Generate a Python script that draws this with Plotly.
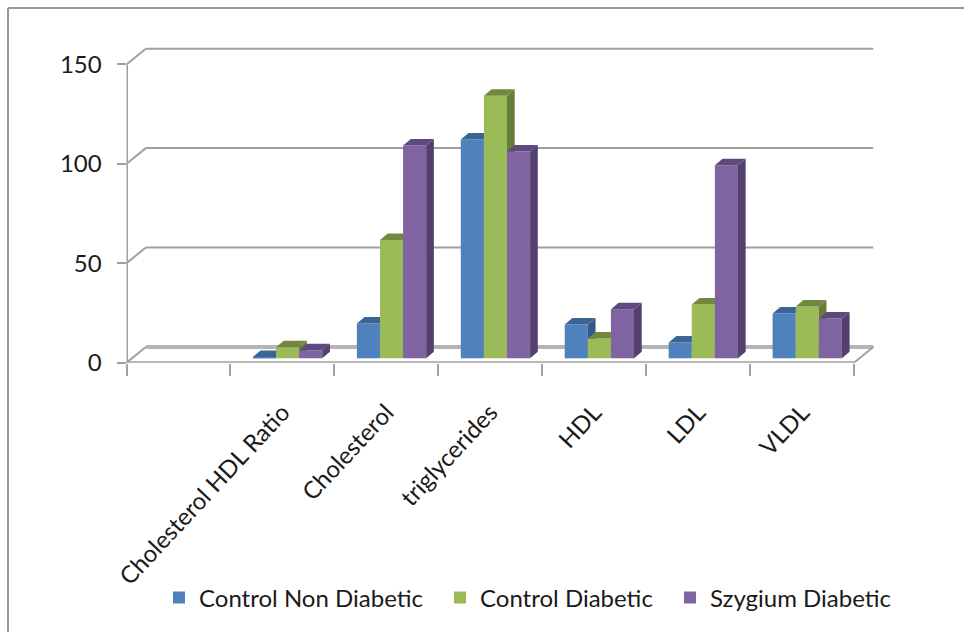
import numpy as np
import plotly.graph_objects as go

categories = ["", "Cholesterol HDL Ratio", "Cholesterol", "triglycerides", "HDL", "LDL", "VLDL"]
series_names = ["Control Non Diabetic", "Control Diabetic", "Szygium Diabetic"]
control_non_diabetic = [None, 0.7, 17.5, 110, 17, 8, 22.5]
control_diabetic = [None, 5.5, 59.5, 132, 10, 27, 26]
szygium_diabetic = [None, 4, 107, 104, 24.7, 97, 20]
y_ticks = [0, 50, 100, 150]

FONT = "Lato"
GRID = "#A0A0A0"
TEXT = "#1A1A1A"
colors = ["#4F81BD", "#9BBB59", "#8064A2"]
top_colors = ["#3A6595", "#71893F", "#5E4A7C"]
side_colors = ["#315A8A", "#667D38", "#54406F"]

W, H = 964, 632
X0, Y0 = 126.5, 362.7
PX_X, PX_Y = 103.93, 1.989
X_MAX, Y_MAX = 7.3, 162.0
WALL_DX, WALL_DY = 19.3 / PX_X, 15.7 / PX_Y
BAR_W = 23.1 / PX_X
BAR_DX, BAR_DY = 7.7 / PX_X, 6.5 / PX_Y
BASE = 4.4 / PX_Y
CLUSTER_SHIFT = 0.05

xdom = [X0 / W, (X0 + PX_X * X_MAX) / W]
ydom = [(H - Y0) / H, (H - Y0 + PX_Y * Y_MAX) / H]
slots = np.arange(len(categories))
centers = slots + 0.5

fig = go.Figure()
all_values = [control_non_diabetic, control_diabetic, szygium_diabetic]

for s, (name, vals) in enumerate(zip(series_names, all_values)):
    ax = str(s + 2)
    lefts = centers + CLUSTER_SHIFT + (s - 1.5) * BAR_W
    sx, sy, tx, ty = [], [], [], []
    for xl, v in zip(lefts, vals):
        if v is None:
            continue
        xr, top = xl + BAR_W, v + BASE
        sx += [xr, xr, xr + BAR_DX, xr + BAR_DX, xr, None]
        sy += [BASE, top, top + BAR_DY, BASE + BAR_DY, BASE, None]
        tx += [xl, xr, xr + BAR_DX, xl + BAR_DX, xl, None]
        ty += [top, top, top + BAR_DY, top + BAR_DY, top, None]
    common = dict(mode="lines", fill="toself", line=dict(width=0), hoverinfo="skip",
                  showlegend=False, xaxis="x" + ax, yaxis="y" + ax)
    fig.add_trace(go.Scatter(x=sx, y=sy, fillcolor=side_colors[s], **common))
    fig.add_trace(go.Scatter(x=tx, y=ty, fillcolor=top_colors[s], **common))
    fig.add_trace(go.Bar(x=lefts, y=vals, base=BASE, width=BAR_W, offset=0, name=name,
                         marker=dict(color=colors[s], line=dict(width=0)),
                         xaxis="x" + ax, yaxis="y" + ax,
                         legend="legend" if s == 0 else "legend" + str(s + 1)))

# invisible carrier so the base axes render
fig.add_trace(go.Scatter(x=[0], y=[0], mode="markers", marker=dict(opacity=0), showlegend=False,
                         hoverinfo="skip", xaxis="x", yaxis="y"))

shapes = []
def seg(x0, y0, x1, y1, width=2, color=GRID):
    shapes.append(dict(type="line", xref="x", yref="y", x0=x0, y0=y0, x1=x1, y1=y1,
                       layer="below", line=dict(color=color, width=width)))

n = len(categories)
for t in y_ticks[1:]:
    seg(0, t, WALL_DX, t + WALL_DY)
    seg(WALL_DX, t + WALL_DY, n + WALL_DX, t + WALL_DY)
seg(0, 0, WALL_DX, WALL_DY)
seg(WALL_DX, WALL_DY, n + WALL_DX, WALL_DY, width=4, color="#B4B4B4")
seg(n, 0, n + WALL_DX, WALL_DY)
seg(0, 0, 0, y_ticks[-1], width=3)
seg(0, 0, n, 0, width=3)
# outer chart frame
for x0, y0, x1, y1 in [(8, 8, W, 8), (8, 8, 8, H)]:
    shapes.append(dict(type="line", xref="paper", yref="paper", x0=x0 / W,
                       y0=1 - y0 / H, x1=x1 / W, y1=1 - y1 / H,
                       line=dict(color="#999999", width=2)))

hidden = dict(visible=False, domain=xdom, range=[0, X_MAX], fixedrange=True)
hiddeny = dict(visible=False, domain=ydom, range=[0, Y_MAX], fixedrange=True)

legend_common = dict(orientation="h", xanchor="left", yanchor="middle", y=1 - 598 / H,
                     bgcolor="rgba(0,0,0,0)", font=dict(family=FONT, size=24, color=TEXT),
                     itemwidth=30)

fig.update_layout(
    width=W, height=H, margin=dict(l=0, r=0, t=0, b=0), autosize=False,
    paper_bgcolor="white", plot_bgcolor="white", barmode="overlay", shapes=shapes,
    font=dict(family=FONT, color=TEXT),
    xaxis=dict(domain=xdom, range=[0, X_MAX], tickmode="array", tickvals=centers.tolist(),
               ticktext=categories, tickangle=-47, ticks="", ticklen=0, showgrid=False,
               zeroline=False, showline=False, tickfont=dict(family=FONT, size=24, color=TEXT),
               ticklabelstandoff=30, automargin=False, fixedrange=True,
               minor=dict(tickmode="array", tickvals=slots.tolist() + [n], ticks="outside",
                          ticklen=12, tickwidth=2, tickcolor=GRID, showgrid=False)),
    yaxis=dict(domain=ydom, range=[0, Y_MAX], tickmode="array", tickvals=y_ticks,
               ticks="outside", ticklen=9, tickwidth=2, tickcolor=GRID, showgrid=False,
               zeroline=False, showline=False, tickfont=dict(family=FONT, size=24, color=TEXT),
               ticklabelstandoff=10, automargin=False, fixedrange=True),
    xaxis2=dict(overlaying="x", anchor="y2", **hidden), yaxis2=dict(overlaying="y", anchor="x2", **hiddeny),
    xaxis3=dict(overlaying="x", anchor="y3", **hidden), yaxis3=dict(overlaying="y", anchor="x3", **hiddeny),
    xaxis4=dict(overlaying="x", anchor="y4", **hidden), yaxis4=dict(overlaying="y", anchor="x4", **hiddeny),
    legend=dict(x=159 / W, **legend_common),
    legend2=dict(x=440 / W, **legend_common),
    legend3=dict(x=670 / W, **legend_common),
)

fig.write_html("out.html", config={"displayModeBar": False},
               post_script="document.body.style.margin='0';document.documentElement.style.overflow='hidden';")
